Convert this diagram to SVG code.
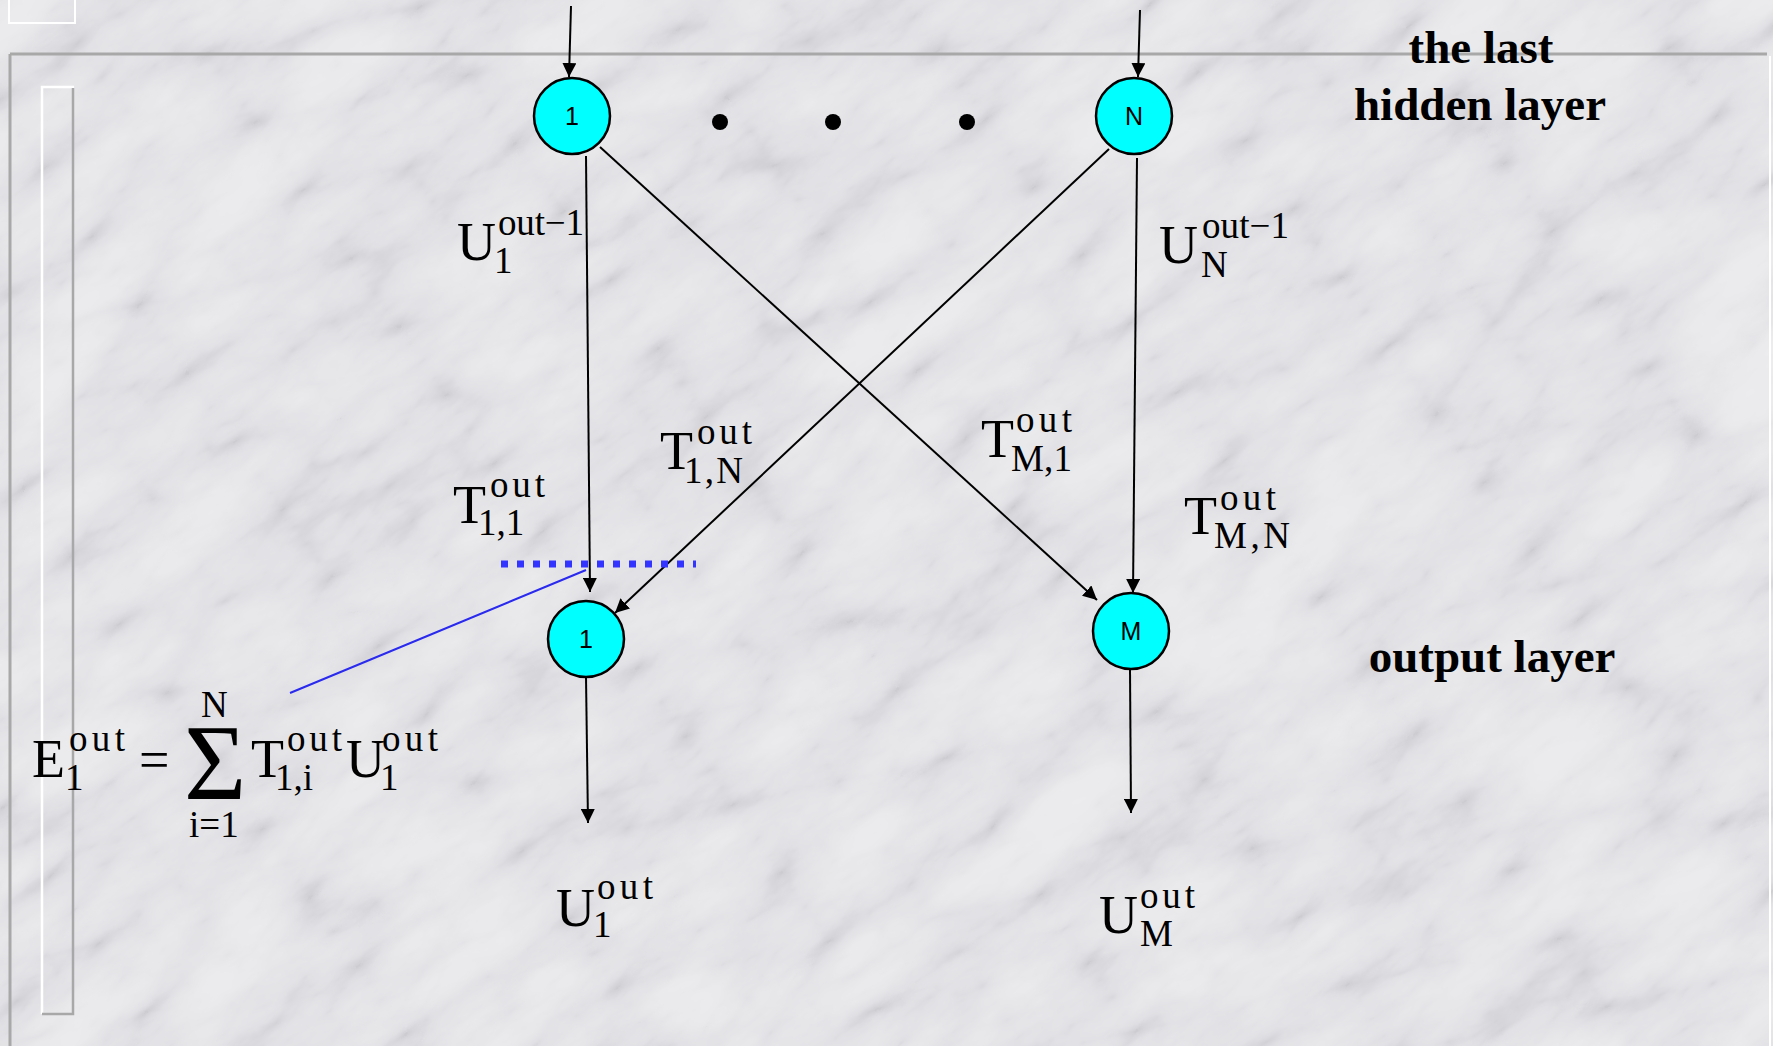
<svg xmlns="http://www.w3.org/2000/svg" width="1773" height="1046" viewBox="0 0 1773 1046">
<style>
.node{fill:#00ffff;stroke:#000;stroke-width:2.5}
.nl{font-family:"Liberation Sans",Arial,sans-serif;font-size:25px;fill:#000;text-anchor:middle}
.m{font-family:"Liberation Serif","Times New Roman",serif;font-size:54px;fill:#000}
.s{font-family:"Liberation Serif","Times New Roman",serif;font-size:37px;fill:#000}
.b{font-family:"Liberation Serif","Times New Roman",serif;font-size:47px;font-weight:bold;fill:#000;text-anchor:middle}
.c{stroke:#000;stroke-width:2;fill:none;marker-end:url(#ah)}
</style>
<defs>
<marker id="ah" markerUnits="userSpaceOnUse" markerWidth="16" markerHeight="14" refX="14" refY="7" orient="auto">
<path d="M0,0 L14,7 L0,14 z" fill="#000"/>
</marker>
<filter id="marble" x="0" y="0" width="100%" height="100%" color-interpolation-filters="sRGB">
<feTurbulence type="turbulence" baseFrequency="0.005 0.012" numOctaves="5" seed="11"/>
<feColorMatrix type="matrix" values="0.33 0.33 0.33 0 0 0.33 0.33 0.33 0 0 0.33 0.33 0.33 0 0 0 0 0 0 1"/>
<feComponentTransfer>
<feFuncR type="table" tableValues="0.80 0.885 0.92 0.93 0.935"/>
<feFuncG type="table" tableValues="0.80 0.885 0.92 0.93 0.935"/>
<feFuncB type="table" tableValues="0.82 0.90 0.93 0.94 0.945"/>
<feFuncA type="table" tableValues="1 1"/>
</feComponentTransfer>
</filter>
</defs>
<rect width="1773" height="1046" fill="#e9e9eb"/>
<g transform="rotate(-35 886 523)">
<rect x="-600" y="-600" width="2973" height="2246" filter="url(#marble)"/>
</g>
<g id="frame" fill="none">
<line x1="10" y1="54" x2="1767" y2="54" stroke="#a8a8a8" stroke-width="3"/>
<line x1="10" y1="54" x2="10" y2="1046" stroke="#a8a8a8" stroke-width="3"/>
<line x1="1770" y1="56" x2="1770" y2="1046" stroke="#fff" stroke-width="2"/>
<rect x="9" y="-5" width="66" height="28" stroke="#fff" stroke-width="2"/>
<polyline points="42,1014 42,87 74,87" stroke="#fff" stroke-width="2.5"/>
<polyline points="73,88 73,1014 42,1014" stroke="#a8a8a8" stroke-width="2.5"/>
</g>
<g id="connectors">
<line class="c" x1="571" y1="6" x2="569" y2="77"/>
<line class="c" x1="1140" y1="10" x2="1138" y2="77"/>
<line class="c" x1="586" y1="156" x2="590" y2="592"/>
<line class="c" x1="600" y1="147" x2="1097" y2="600"/>
<line class="c" x1="1109" y1="149" x2="615" y2="613"/>
<line class="c" x1="1137" y1="158" x2="1133" y2="593"/>
<line class="c" x1="586" y1="677" x2="588" y2="823"/>
<line class="c" x1="1130" y1="670" x2="1131" y2="813"/>
<line x1="501" y1="564" x2="696" y2="564" stroke="#3434ff" stroke-width="7" stroke-dasharray="7 9"/>
<line x1="586" y1="570" x2="290" y2="693" stroke="#2a2aee" stroke-width="2"/>
</g>
<g id="hidden-1"><circle class="node" cx="572" cy="116" r="38"/><text class="nl" x="572" y="125">1</text></g>
<g id="hidden-N"><circle class="node" cx="1134" cy="116" r="38"/><text class="nl" x="1134" y="125">N</text></g>
<g id="output-1"><circle class="node" cx="586" cy="639" r="38"/><text class="nl" x="586" y="648">1</text></g>
<g id="output-M"><circle class="node" cx="1131" cy="631" r="38"/><text class="nl" x="1131" y="640">M</text></g>
<g id="dots" fill="#000">
<circle cx="720" cy="122" r="8"/><circle cx="833" cy="122" r="8"/><circle cx="967" cy="122" r="8"/>
</g>
<g id="layer-labels">
<text class="b" x="1481" y="63">the last</text>
<text class="b" x="1480" y="120">hidden layer</text>
<text class="b" x="1492" y="672">output layer</text>
</g>
<g id="label-U1out-1"><text class="m" x="457" y="260">U</text><text class="s" x="498" y="235" textLength="86">out−1</text><text class="s" x="494" y="273">1</text></g>
<g id="label-UNout-1"><text class="m" x="1159" y="263">U</text><text class="s" x="1202" y="238" textLength="87">out−1</text><text class="s" x="1201" y="277">N</text></g>
<g id="label-T11"><text class="m" x="453" y="523">T</text><text class="s" x="490" y="497" textLength="55">out</text><text class="s" x="478" y="535">1,1</text></g>
<g id="label-T1N"><text class="m" x="660" y="469">T</text><text class="s" x="697" y="444" textLength="55">out</text><text class="s" x="684" y="483" textLength="59">1,N</text></g>
<g id="label-TM1"><text class="m" x="981" y="457">T</text><text class="s" x="1016" y="432" textLength="56">out</text><text class="s" x="1011" y="471" textLength="61">M,1</text></g>
<g id="label-TMN"><text class="m" x="1184" y="534">T</text><text class="s" x="1220" y="510" textLength="56">out</text><text class="s" x="1214" y="548" textLength="76">M,N</text></g>
<g id="label-U1out"><text class="m" x="556" y="926">U</text><text class="s" x="597" y="899" textLength="56">out</text><text class="s" x="593" y="937">1</text></g>
<g id="label-UMout"><text class="m" x="1099" y="933">U</text><text class="s" x="1140" y="908" textLength="55">out</text><text class="s" x="1140" y="946">M</text></g>
<g id="equation">
<text class="m" x="32" y="777">E</text><text class="s" x="69" y="751" textLength="56">out</text><text class="s" x="65" y="790">1</text>
<text class="m" x="139" y="778">=</text>
<text class="m" x="184" y="799" style="font-size:107px">Σ</text>
<text class="s" x="201" y="717">N</text>
<text class="s" x="189" y="837">i=1</text>
<text class="m" x="251" y="777">T</text><text class="s" x="287" y="751" textLength="55">out</text><text class="s" x="275" y="790">1,i</text>
<text class="m" x="346" y="777">U</text><text class="s" x="382" y="751" textLength="56">out</text><text class="s" x="380" y="790">1</text>
</g>
</svg>
